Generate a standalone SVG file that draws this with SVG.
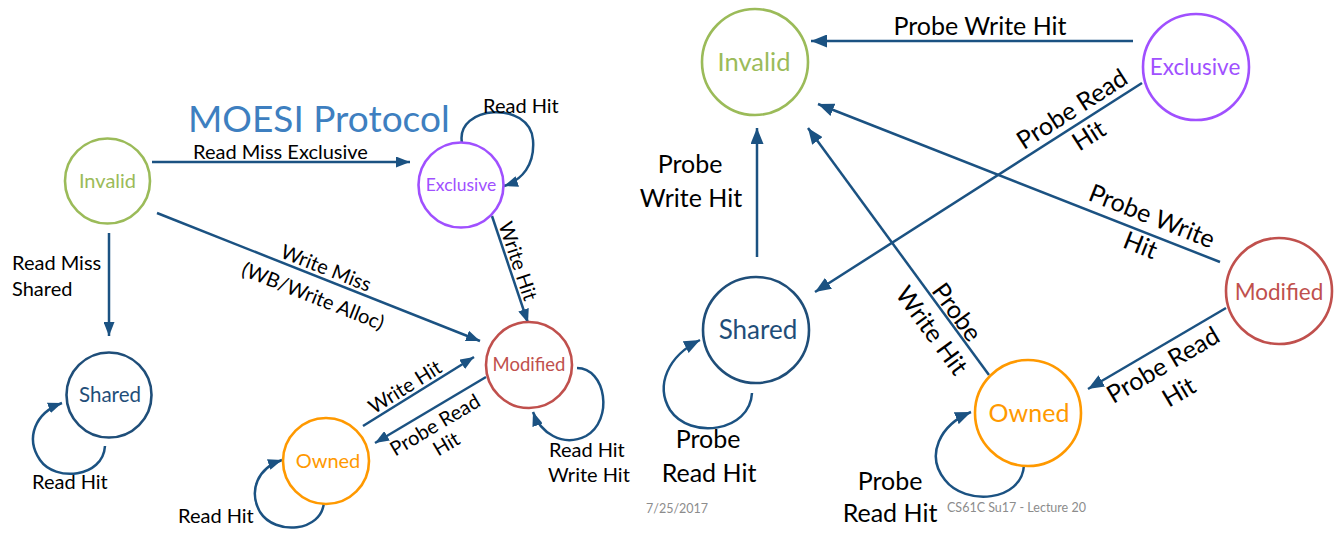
<svg xmlns="http://www.w3.org/2000/svg" width="1339" height="539" viewBox="0 0 1339 539">
<style>
.lbl{font-family:Lato,"Open Sans",sans-serif;fill:#000}
.s{font-size:20px}
.b{font-size:25px}
.edge{fill:none;stroke:#1B5282;stroke-width:2.5}
.node{fill:#fff;stroke-width:2.6}
.nt{font-family:Lato,"Open Sans",sans-serif;text-anchor:middle}
.foot{font-family:Lato,"Open Sans",sans-serif;font-size:12.5px;fill:#8C8C8C}
</style>
<defs>
<marker id="a" markerUnits="userSpaceOnUse" markerWidth="14" markerHeight="11" refX="14" refY="5.5" orient="auto"><path d="M0,0 L14,5.5 L0,11 z" fill="#1B5282"/></marker>
<marker id="A" markerUnits="userSpaceOnUse" markerWidth="16" markerHeight="13" refX="16" refY="6.5" orient="auto"><path d="M0,0 L16,6.5 L0,13 z" fill="#1B5282"/></marker>
</defs>
<rect width="1339" height="539" fill="#fff"/>
<text x="188" y="132" font-family="Lato,'Open Sans',sans-serif" font-size="37" fill="#3E7FC0">MOESI Protocol</text>

<g id="connectors">
<path class="edge" marker-end="url(#a)" d="M152,162 L410,162"/>
<path class="edge" marker-end="url(#a)" d="M109,233 L109,336"/>
<path class="edge" marker-end="url(#a)" d="M157,213 L480,341"/>
<path class="edge" marker-end="url(#a)" d="M492,216 L528,323"/>
<path class="edge" marker-end="url(#a)" d="M363,426 L474,357"/>
<path class="edge" marker-end="url(#a)" d="M486,377 L375,443"/>
<path class="edge" marker-end="url(#a)" d="M462,143 C455,105 530,100 533,140 C535,165 522,180 504,186"/>
<path class="edge" marker-end="url(#a)" d="M105,446 C103,478 55,482 40,460 C25,438 35,413 62,403"/>
<path class="edge" marker-end="url(#a)" d="M324,502 C322,532 275,536 260,512 C248,490 258,468 282,460"/>
<path class="edge" marker-end="url(#a)" d="M577,368 C606,368 614,420 586,436 C562,448 540,432 533,412"/>

<path class="edge" marker-end="url(#A)" d="M1133,41 L811,41"/>
<path class="edge" marker-end="url(#A)" d="M757,257 L757,128"/>
<path class="edge" marker-end="url(#A)" d="M1220,262 L818,104"/>
<path class="edge" marker-end="url(#A)" d="M1142,83 L815,292"/>
<path class="edge" marker-end="url(#A)" d="M989,375 L808,128"/>
<path class="edge" marker-end="url(#A)" d="M1226,308 L1088,389"/>
<path class="edge" marker-end="url(#A)" d="M752,393 C750,432 690,440 670,410 C655,385 668,356 700,340"/>
<path class="edge" marker-end="url(#A)" d="M1024,465 C1022,502 965,506 945,480 C925,455 940,425 971,412"/>

<text class="lbl s" x="193" y="159">Read Miss Exclusive</text>
<text class="lbl s" x="12" y="270">Read Miss</text>
<text class="lbl s" x="12" y="296">Shared</text>
<text class="lbl s" x="483" y="113">Read Hit</text>
<text class="lbl s" x="32" y="489">Read Hit</text>
<text class="lbl s" x="178" y="523">Read Hit</text>
<text class="lbl s" x="549" y="457">Read Hit</text>
<text class="lbl s" x="548" y="482">Write Hit</text>
<text class="lbl s" text-anchor="middle" transform="translate(518,261) rotate(71.4)" dy="0.35em">Write Hit</text>
<text class="lbl s" text-anchor="middle" transform="translate(326,268) rotate(21.6)" dy="0.35em">Write Miss</text>
<text class="lbl s" text-anchor="middle" transform="translate(313,296) rotate(21.6)" dy="0.35em">(WB/Write Alloc)</text>
<text class="lbl s" text-anchor="middle" transform="translate(405,387) rotate(-31.9)" dy="0.35em">Write Hit</text>
<text class="lbl s" text-anchor="middle" transform="translate(435,425) rotate(-30.7)"><tspan x="0" dy="0.35em">Probe Read</tspan><tspan x="0" dy="1.1em">Hit</tspan></text>

<text class="lbl b" x="980" y="35" text-anchor="middle">Probe Write Hit</text>
<text class="lbl b" x="690" y="173" text-anchor="middle">Probe</text>
<text class="lbl b" x="691" y="207" text-anchor="middle">Write Hit</text>
<text class="lbl b" x="708" y="448" text-anchor="middle">Probe</text>
<text class="lbl b" x="709" y="482" text-anchor="middle">Read Hit</text>
<text class="lbl b" x="890" y="490" text-anchor="middle">Probe</text>
<text class="lbl b" x="890" y="522" text-anchor="middle">Read Hit</text>
<text class="lbl b" text-anchor="middle" transform="translate(1152,216) rotate(21.5)"><tspan x="0" dy="0.35em">Probe Write</tspan><tspan x="0" dy="1.25em">Hit</tspan></text>
<text class="lbl b" text-anchor="middle" transform="translate(1072,109) rotate(-32.6)"><tspan x="0" dy="0.35em">Probe Read</tspan><tspan x="0" dy="1.25em">Hit</tspan></text>
<text class="lbl b" text-anchor="middle" transform="translate(957,312) rotate(53.8)"><tspan x="0" dy="0.35em">Probe</tspan><tspan x="0" dy="1.25em">Write Hit</tspan></text>
<text class="lbl b" text-anchor="middle" transform="translate(1163,365) rotate(-30.4)"><tspan x="0" dy="0.35em">Probe Read</tspan><tspan x="0" dy="1.25em">Hit</tspan></text>
</g>

<g id="invalid-left"><circle class="node" cx="107.5" cy="181" r="42.5" stroke="#9BBB59"/><text class="nt" x="107.5" y="188" font-size="20" fill="#9BBB59">Invalid</text></g>
<g id="exclusive-left"><circle class="node" cx="461" cy="185" r="42.5" stroke="#A050FF"/><text class="nt" x="461" y="191" font-size="17.5" fill="#A050FF">Exclusive</text></g>
<g id="shared-left"><circle class="node" cx="109" cy="395" r="42.5" stroke="#1F4E79"/><text class="nt" x="110" y="402" font-size="20.5" fill="#1F4E79">Shared</text></g>
<g id="owned-left"><circle class="node" cx="326" cy="461" r="43" stroke="#FF9900"/><text class="nt" x="328" y="468" font-size="20" fill="#FF9900">Owned</text></g>
<g id="modified-left"><circle class="node" cx="529" cy="365" r="43" stroke="#C0504D"/><text class="nt" x="529" y="371" font-size="18.5" fill="#C0504D">Modified</text></g>

<g id="invalid-right"><circle class="node" cx="755" cy="62" r="53" stroke="#9BBB59" stroke-width="3"/><text class="nt" x="754" y="71" font-size="25.5" fill="#9BBB59">Invalid</text></g>
<g id="exclusive-right"><circle class="node" cx="1196" cy="67" r="53" stroke="#A050FF" stroke-width="3"/><text class="nt" x="1195" y="75" font-size="22.5" fill="#A050FF">Exclusive</text></g>
<g id="shared-right"><circle class="node" cx="756" cy="330" r="53" stroke="#1F4E79" stroke-width="3"/><text class="nt" x="758" y="339" font-size="26" fill="#1F4E79">Shared</text></g>
<g id="owned-right"><circle class="node" cx="1028" cy="413" r="53" stroke="#FF9900" stroke-width="3"/><text class="nt" x="1029" y="422" font-size="25" fill="#FF9900">Owned</text></g>
<g id="modified-right"><circle class="node" cx="1279" cy="291" r="53" stroke="#C0504D" stroke-width="3"/><text class="nt" x="1279" y="300" font-size="22.5" fill="#C0504D">Modified</text></g>

<text class="foot" x="646" y="513">7/25/2017</text>
<text class="foot" x="947" y="512">CS61C Su17 - Lecture 20</text>
</svg>
